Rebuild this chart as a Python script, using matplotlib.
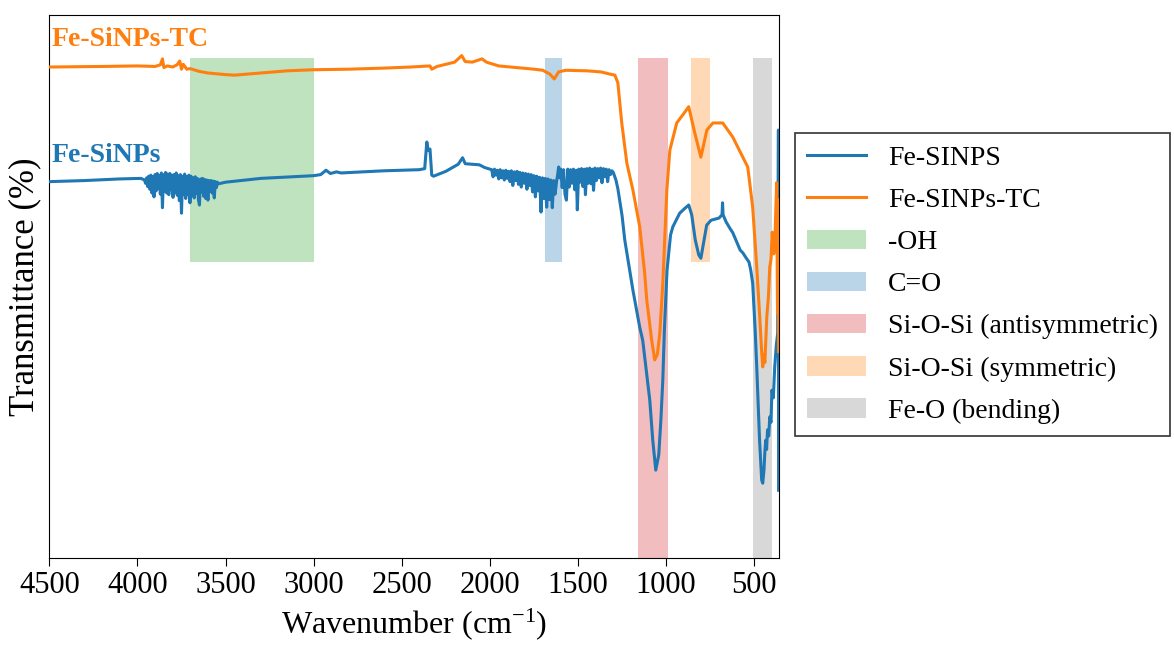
import matplotlib
matplotlib.use('Agg')
import matplotlib.pyplot as plt

plt.rcParams['font.family'] = ['Liberation Serif', 'DejaVu Serif']
plt.rcParams['mathtext.fontset'] = 'custom'
plt.rcParams['mathtext.rm'] = 'Liberation Serif'
plt.rcParams['mathtext.it'] = 'Liberation Serif:italic'

# Fe-SiNPs spectrum (wavenumber, transmittance in arbitrary %)
wn_fe = [4500, 4300, 4100, 3980,
         3960, 3954, 3948, 3942, 3936, 3930, 3924, 3918, 3912, 3906, 3900, 3894, 3888,
         3882, 3876, 3870, 3864, 3858, 3852, 3846, 3840, 3834, 3828, 3822, 3816, 3810,
         3804, 3798, 3792, 3786, 3780, 3774, 3768, 3762, 3756, 3750, 3744, 3738, 3732,
         3726, 3720, 3714, 3708, 3702, 3696, 3690, 3684, 3678, 3672, 3666, 3660, 3654,
         3648, 3642, 3636, 3630, 3624, 3618, 3612, 3606, 3600, 3594, 3588, 3582, 3576,
         3570, 3564, 3558, 3552, 3546, 3540,
         3500, 3300, 3000, 2960, 2930, 2905, 2870, 2845, 2600, 2400, 2370, 2358, 2350,
         2340, 2330, 2320, 2250, 2180, 2155, 2140, 2060, 2030, 2000,
         1990, 1982, 1974, 1966, 1958, 1950, 1942, 1934, 1926, 1918, 1910, 1902, 1894,
         1886, 1878, 1870, 1862, 1854, 1846, 1838, 1830, 1822, 1814, 1806, 1798, 1790,
         1782, 1774, 1766, 1758, 1750, 1742, 1734, 1726, 1718, 1710, 1702, 1694, 1686,
         1678, 1670, 1662, 1654, 1646, 1638, 1630, 1622, 1616, 1610, 1604, 1598, 1590,
         1582, 1574, 1566, 1558, 1550, 1542, 1534, 1526, 1518, 1510, 1504, 1496, 1488,
         1480, 1472, 1464, 1458, 1450, 1442, 1434, 1426, 1418, 1412, 1404, 1396, 1388,
         1380, 1372, 1364, 1356, 1348, 1340, 1332, 1324, 1316, 1308, 1300,
         1285, 1274, 1250, 1235,
         1189, 1150, 1133, 1093, 1076, 1059, 1042, 1030, 1019, 1010, 995, 975, 962, 923,
         890, 872, 855, 835, 815, 803, 790, 770, 745, 700, 683, 680, 677, 660, 640, 622,
         600, 580, 565, 545, 530, 520, 509, 495, 486, 470, 458, 452, 445, 440, 435, 430,
         425, 418, 412, 405, 400, 392, 384, 375, 367, 363, 362]
t_fe = [69.3, 69.5, 69.8, 69.9,
        69.6, 69.0, 70.0, 68.4, 70.3, 67.9, 70.5, 67.2, 70.2, 66.5, 70.6, 67.6, 70.8,
        68.0, 70.4, 67.0, 70.9, 64.5, 70.6, 67.5, 71.0, 67.2, 70.7, 66.9, 70.8, 67.8,
        70.5, 66.4, 70.6, 67.3, 70.9, 66.8, 70.4, 65.8, 70.6, 63.5, 70.3, 66.9, 70.7,
        66.2, 70.2, 67.0, 70.5, 65.4, 70.3, 66.8, 70.0, 66.3, 70.2, 67.1, 69.9, 66.0,
        65.0, 69.8, 67.4, 69.9, 66.6, 69.7, 66.2, 69.6, 65.9, 69.5, 67.5, 69.5, 67.2,
        69.4, 66.3, 69.3, 68.2, 69.2, 68.9,
        69.2, 69.9, 70.4, 70.6, 71.4, 70.8, 71.1, 70.9, 71.3, 71.5, 71.7, 76.6, 75.0,
        75.3, 70.5, 70.3, 71.2, 72.5, 73.7, 72.6, 72.4, 71.9, 71.6,
        71.5, 70.2, 71.6, 70.5, 71.4, 69.8, 71.5, 70.0, 71.3, 69.6, 71.4, 69.9, 71.2,
        69.3, 71.3, 68.6, 71.1, 69.5, 71.2, 68.8, 71.0, 68.3, 70.9, 69.0, 70.8, 67.9,
        70.7, 68.6, 70.6, 67.4, 70.4, 66.5, 70.3, 67.6, 70.1, 63.7, 70.0, 66.2, 69.9,
        64.6, 69.8, 66.0, 69.6, 64.5, 69.5, 67.0, 69.3, 70.5, 72.0, 70.0, 71.6, 68.2,
        71.5, 67.0, 65.9, 71.6, 68.3, 71.5, 69.0, 71.6, 67.8, 71.4, 64.1, 71.6, 69.2,
        71.7, 68.4, 71.6, 66.9, 71.7, 69.0, 71.8, 68.9, 71.6, 67.7, 71.8, 69.5, 71.7,
        70.0, 71.8, 69.1, 71.7, 70.2, 71.6, 69.3, 71.5, 70.6, 71.3, 71.0,
        69.6, 68.0, 63.0, 58.6,
        49.4, 42.5, 40.1, 29.1, 21.7, 16.2, 19.0, 25.4, 32.8, 42.0, 53.0, 59.5, 61.0, 63.5,
        64.5, 65.0, 63.2, 58.6, 55.8, 55.2, 57.6, 61.3, 62.2, 62.6, 63.2, 65.4, 63.2, 61.9,
        60.8, 59.9, 58.2, 56.7, 56.2, 55.2, 54.5, 53.0, 50.6, 42.0, 35.2, 21.7, 14.4, 13.8,
        16.2, 19.5, 21.7, 20.0, 23.6, 22.5, 26.0, 25.0, 30.9, 29.5, 35.2, 39.2, 41.4, 78.8, 12.5]

# Fe-SiNPs-TC spectrum
wn_tc = [4500, 4200, 4000, 3900, 3870, 3858, 3850, 3830, 3800, 3775, 3760, 3750, 3740,
         3720, 3700, 3650, 3600, 3500, 3450, 3300, 3150, 3000, 2800, 2600, 2450, 2340,
         2330, 2300, 2200, 2160, 2140, 2100, 2045, 2020, 1950, 1850, 1750, 1700, 1660,
         1635, 1610, 1570, 1450, 1370, 1320, 1291, 1274, 1252, 1223, 1189, 1150, 1122,
         1110, 1082, 1065, 1050, 1036, 1019, 996, 979, 940, 894, 872, 838, 803, 769, 735,
         679, 622, 565, 537, 509, 486, 469, 458, 452, 446, 440, 434, 429, 420, 412, 405,
         398, 390, 384, 378, 373, 368, 364, 362]
t_tc = [90.4, 90.5, 90.6, 90.5, 90.8, 91.9, 90.3, 90.6, 90.4, 90.8, 91.5, 90.0, 90.9,
        90.0, 90.1, 89.6, 89.3, 89.0, 88.9, 89.3, 89.7, 89.9, 90.0, 90.2, 90.4, 90.6,
        90.0, 90.5, 91.3, 92.5, 91.4, 91.3, 91.9, 91.3, 90.6, 90.3, 90.0, 89.8, 89.1,
        88.2, 89.5, 89.8, 89.7, 89.5, 89.1, 88.9, 87.5, 80.1, 72.7, 67.8, 61.0, 52.5,
        47.5, 40.1, 36.5, 37.5, 41.4, 50.6, 67.8, 75.1, 80.1, 82.1, 83.1, 78.3, 73.8, 78.8,
        80.1, 80.1, 77.5, 73.8, 72.0, 64.6, 53.6, 44.4, 38.0, 35.2, 37.5, 36.0, 40.5, 44.4,
        48.0, 53.6, 55.0, 60.0, 56.0, 56.7, 64.0, 69.1, 45.0, 66.0, 38.0]

# highlighted bands
band_hi = [3700, 1685, 1160, 860, 510]
band_lo = [3000, 1590, 990, 750, 400]
band_ymin = [0.545, 0.545, 0.0, 0.545, 0.0]
band_col = ['tab:green', 'tab:blue', 'tab:red', 'tab:orange', 'tab:gray']
band_lab = ['-OH', 'C=O', 'Si-O-Si (antisymmetric)', 'Si-O-Si (symmetric)', 'Fe-O (bending)']

fig = plt.figure(figsize=(11.74, 6.46), dpi=100)
ax = fig.add_axes([0.042, 0.136, 0.6215, 0.841])

ax.plot(wn_fe, t_fe, color='tab:blue', lw=2.2, label='Fe-SINPS', zorder=3)
ax.plot(wn_tc, t_tc, color='tab:orange', lw=2.2, label='Fe-SINPs-TC', zorder=3)
for hi, lo, ymn, c, lab in zip(band_hi, band_lo, band_ymin, band_col, band_lab):
    ax.axvspan(hi, lo, ymin=ymn, ymax=0.921, color=c, alpha=0.3, lw=0, label=lab, zorder=1)

ax.text(4486, 95.4, 'Fe-SiNPs-TC', color='tab:orange', fontsize=20, fontweight='bold',
        ha='left', va='center')
ax.text(4486, 74.2, 'Fe-SiNPs', color='tab:blue', fontsize=20, fontweight='bold',
        ha='left', va='center')

ax.set_xlim(4500, 360)
ax.set_ylim(0, 100)
ax.set_xticks([4500, 4000, 3500, 3000, 2500, 2000, 1500, 1000, 500])
ax.set_yticks([])
ax.tick_params(axis='x', labelsize=22, length=6)
ax.set_xlabel('Wavenumber (cm$^{-1}$)', fontsize=23, labelpad=4)
ax.set_ylabel('Transmittance (%)', fontsize=25, labelpad=6)

leg = fig.legend(loc='upper left', bbox_to_anchor=(0.677, 0.794), borderaxespad=0,
                 fontsize=20, fancybox=False, edgecolor='#333333', framealpha=1,
                 handlelength=2.1, labelspacing=0.6, borderpad=0.45)
leg.get_frame().set_linewidth(1.2)

plt.savefig('out.png', dpi=100)
